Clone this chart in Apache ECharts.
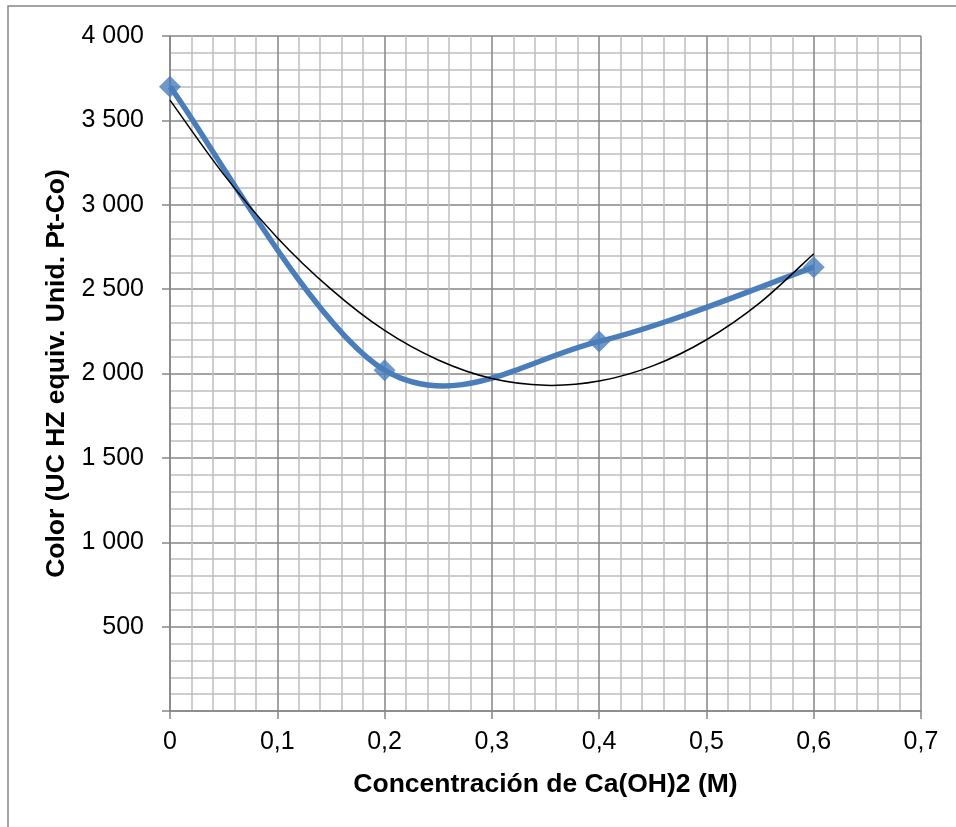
<!DOCTYPE html>
<html>
<head>
<meta charset="utf-8">
<script src="https://cdn.jsdelivr.net/npm/echarts@6/dist/echarts.min.js"></script>
<style>
  html, body { margin: 0; padding: 0; background: #fff; }
  #chart { width: 956px; height: 827px; }
</style>
</head>
<body>
<div id="chart"></div>
<script>
// measured points (Ca(OH)2 concentration, color)
const concentrations = [0, 0.2, 0.4, 0.6];
const colorValues = [3700, 2020, 2190, 2630];

// polynomial trendline
const trendX = [0, 0.05, 0.1, 0.15, 0.2, 0.25, 0.3, 0.35, 0.4, 0.45, 0.5, 0.55, 0.6];
const trendY = [3620, 3180, 2805, 2500, 2255, 2080, 1970, 1930, 1955, 2045, 2200, 2420, 2710];

const xTitle = "Concentración de Ca(OH)2 (M)";
const yTitle = "Color (UC HZ equiv. Unid. Pt-Co)";

const fmtY = v => v === 0 ? "" : String(v).replace(/\B(?=(\d{3})+(?!\d))/g, " ");
const fmtX = v => v === 0 ? "0" : v.toFixed(1).replace(".", ",");

// spreadsheet-style smoothed line (catmull-rom -> bezier) in pixel space
function smoothPath(pts) {
  let d = "M" + pts[0][0] + "," + pts[0][1];
  for (let i = 0; i < pts.length - 1; i++) {
    const p0 = pts[i - 1] || pts[i], p1 = pts[i], p2 = pts[i + 1], p3 = pts[i + 2] || p2;
    const c1 = [p1[0] + (p2[0] - p0[0]) / 6, p1[1] + (p2[1] - p0[1]) / 6];
    const c2 = [p2[0] - (p3[0] - p1[0]) / 6, p2[1] - (p3[1] - p1[1]) / 6];
    d += " C" + c1.join(",") + " " + c2.join(",") + " " + p2.join(",");
  }
  return d;
}

function curveSeries(xs, ys, color, width, z) {
  return {
    type: "custom",
    clip: false,
    z: z,
    data: xs.map((x, i) => [x, ys[i]]),
    encode: { x: 0, y: 1 },
    renderItem: (params, api) => {
      if (params.dataIndex !== 0) return null;
      const pts = xs.map((x, i) => api.coord([x, ys[i]]));
      return {
        type: "path",
        shape: { pathData: smoothPath(pts) },
        style: { fill: "none", stroke: color, lineWidth: width, lineJoin: "round" }
      };
    }
  };
}

const axisGrey = "#868686";

const chart = echarts.init(document.getElementById("chart"));
chart.setOption({
  animation: false,
  textStyle: { fontFamily: "Liberation Sans, Arial, sans-serif" },
  grid: { left: 170, right: 35, top: 36, bottom: 116 },
  xAxis: {
    type: "value", min: 0, max: 0.7, interval: 0.1,
    name: xTitle, nameLocation: "middle", nameGap: 60,
    nameTextStyle: { fontSize: 26.5, fontWeight: "bold", color: "#000" },
    axisLine: { show: true, lineStyle: { color: axisGrey, width: 1.5 } },
    axisTick: { show: true, length: 8, lineStyle: { color: axisGrey, width: 1.5 } },
    axisLabel: { fontSize: 25, color: "#000", margin: 19, formatter: fmtX },
    splitLine: { show: true, lineStyle: { color: axisGrey, width: 1.5 } },
    minorTick: { show: false, splitNumber: 5 },
    minorSplitLine: { show: true, lineStyle: { color: "#bfbfbf", width: 1.5 } }
  },
  yAxis: {
    type: "value", min: 0, max: 4000, interval: 500,
    name: yTitle, nameLocation: "middle", nameGap: 98, nameRotate: 90,
    nameTextStyle: { fontSize: 26.5, fontWeight: "bold", color: "#000" },
    axisLine: { show: true, lineStyle: { color: axisGrey, width: 1.5 } },
    axisTick: { show: true, length: 8, lineStyle: { color: axisGrey, width: 1.5 } },
    axisLabel: { fontSize: 25, color: "#000", margin: 26, formatter: fmtY },
    splitLine: { show: true, lineStyle: { color: axisGrey, width: 1.5 } },
    minorTick: { show: false, splitNumber: 5 },
    minorSplitLine: { show: true, lineStyle: { color: "#bfbfbf", width: 1.5 } }
  },
  graphic: [{
    type: "rect", silent: true, z: -1,
    shape: { x: 8, y: 6, width: 1200, height: 1200 },
    style: { fill: null, stroke: axisGrey, lineWidth: 1.5 }
  }],
  series: [
    curveSeries(concentrations, colorValues, "#4a7ebb", 5.5, 3),
    {
      type: "scatter",
      data: concentrations.map((x, i) => [x, colorValues[i]]),
      symbol: "diamond", symbolSize: 22,
      itemStyle: { color: "#4a7ebb" },
      z: 4
    },
    curveSeries(trendX, trendY, "#000", 1.5, 5)
  ]
});
</script>
</body>
</html>
